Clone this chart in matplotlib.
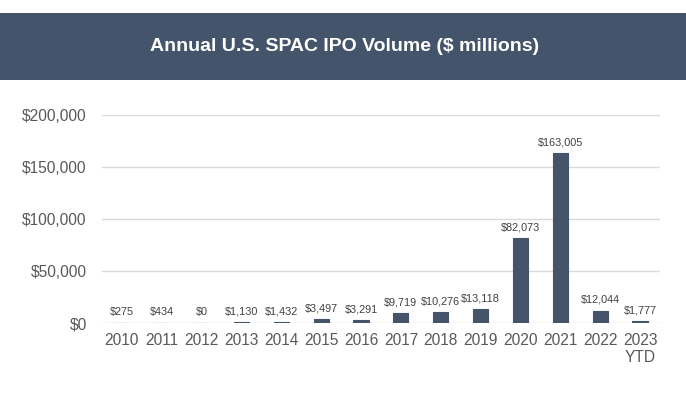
import matplotlib.pyplot as plt
from matplotlib.patches import Rectangle

years = ["2010", "2011", "2012", "2013", "2014", "2015", "2016", "2017",
         "2018", "2019", "2020", "2021", "2022", "2023\nYTD"]
volume = [275, 434, 0, 1130, 1432, 3497, 3291, 9719, 10276, 13118,
          82073, 163005, 12044, 1777]
yticks = [0, 50000, 100000, 150000, 200000]

plt.rcParams["font.family"] = ["Liberation Sans", "DejaVu Sans"]

bar_col = "#44546A"

fig = plt.figure(figsize=(6.86, 3.93), dpi=100)

# banner behind the title
fig.patches.append(Rectangle((0, 0.796), 1, 0.171, transform=fig.transFigure,
                             facecolor=bar_col, edgecolor="none", zorder=0))
fig.text(0.503, 0.881, "Annual U.S. SPAC IPO Volume ($ millions)", color="white",
         fontsize=14, fontweight="bold", ha="center", va="center")

ax = fig.add_axes([0.1487, 0.178, 0.8133, 0.5294])
x = range(len(years))
# thin edge so the tiny early bars still show up like in excel
ax.bar(x, volume, width=0.38, color=bar_col, edgecolor=bar_col, linewidth=0.8, zorder=3)
for xi, v in zip(x, volume):
    ax.annotate("${:,}".format(v), (xi, v), xytext=(0, 4), textcoords="offset points",
                ha="center", va="bottom", fontsize=7.8, color="#404040")

ax.set_xlim(-0.5, len(years) - 0.5)
ax.set_ylim(0, 200000)
ax.set_yticks(yticks)
ax.set_yticklabels(["${:,}".format(t) for t in yticks])
ax.set_xticks(list(x))
ax.set_xticklabels(years)
ax.tick_params(axis="both", length=0, labelsize=11.2, labelcolor="#595959")
ax.tick_params(axis="y", pad=11)
ax.tick_params(axis="x", pad=7)
ax.grid(axis="y", color="#D9D9D9", linewidth=1, zorder=0)
for s in ax.spines.values():
    s.set_visible(False)

fig.savefig("out.png", dpi=100)
